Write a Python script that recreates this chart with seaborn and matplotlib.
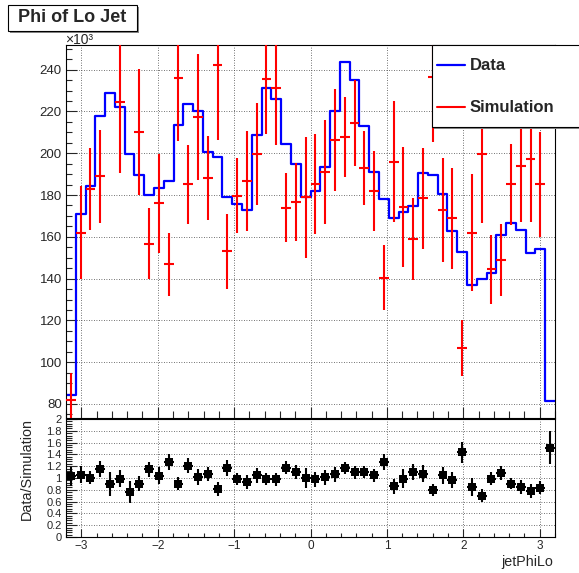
import numpy as np
import pandas as pd
import matplotlib
matplotlib.use("Agg")
import matplotlib.pyplot as plt
import seaborn as sns
from matplotlib.ticker import MultipleLocator, FixedLocator
from matplotlib.patches import Rectangle
from matplotlib.lines import Line2D

# ---------------- data (values in units of 10^3) ----------------
x_range = (-3.2, 3.2)
n_bins = 50

data_counts = [84.4, 170.7, 184.3, 218.0, 229.0, 222.0, 199.7, 189.8, 180.0, 183.3,
               186.8, 213.7, 223.6, 220.3, 200.7, 198.0, 178.9, 175.7, 172.8, 208.5,
               231.2, 225.8, 204.3, 194.8, 179.2, 181.9, 193.2, 220.1, 243.5, 235.0,
               212.9, 191.0, 178.1, 168.8, 171.8, 174.6, 190.6, 189.5, 180.3, 162.9,
               152.9, 137.0, 140.0, 142.5, 161.1, 166.7, 163.5, 152.4, 154.3, 81.6]

sim_counts = [82.0, 162.0, 182.8, 189.0, 254.4, 224.4, 262.8, 210.2, 156.7, 176.0,
              146.8, 235.9, 185.1, 217.4, 188.1, 242.1, 153.1, 179.6, 186.8, 199.7,
              235.4, 231.1, 173.9, 176.6, 179.0, 185.3, 191.1, 206.2, 207.8, 214.5,
              192.9, 182.0, 140.5, 196.0, 174.4, 159.0, 178.4, 236.5, 172.8, 168.8,
              106.7, 162.0, 199.7, 144.5, 148.9, 185.1, 193.8, 197.3, 185.1, 54.0]

sim_errors = [12.8, 22.3, 19.7, 22.3, 59.0, 34.0, 66.0, 30.0, 17.0, 23.5,
              15.0, 30.0, 19.0, 30.0, 20.0, 36.0, 18.0, 18.0, 24.0, 24.5,
              26.0, 27.0, 16.5, 18.6, 29.0, 24.0, 25.0, 24.5, 19.0, 20.7,
              17.7, 19.0, 15.4, 29.0, 28.6, 19.5, 24.0, 31.0, 25.0, 24.0,
              13.3, 28.0, 33.0, 16.5, 17.0, 19.5, 26.6, 30.0, 25.0, 10.0]

top_yticks = [80, 100, 120, 140, 160, 180, 200, 220, 240]
ratio_yticks = [0, 0.2, 0.4, 0.6, 0.8, 1.0, 1.2, 1.4, 1.6, 1.8, 2.0]
ratio_ylabels = ['0', '0.2', '0.4', '0.6', '0.8', '1', '1.2', '1.4', '1.6', '1.8', '2']
xticks = [-3, -2, -1, 0, 1, 2, 3]

title_text = "Phi of Lo Jet"
xlabel_text = "jetPhiLo"
ratio_label_text = "Data/Simulation"
legend_labels = ["Data", "Simulation"]

top_ylim = (73.3, 251.8)
ratio_ylim = (0.0, 2.0)

# ---------------- derived ----------------
edges = np.linspace(x_range[0], x_range[1], n_bins + 1)
centers = 0.5 * (edges[:-1] + edges[1:])
half_w = 0.5 * (edges[1] - edges[0])

df = pd.DataFrame({"x": centers,
                   "data": np.array(data_counts),
                   "sim": np.array(sim_counts),
                   "err": np.array(sim_errors)})
df["ratio"] = df["data"] / df["sim"]
df["ratio_err"] = df["ratio"] * df["err"] / df["sim"]

# ---------------- style ----------------
sns.set_style("white")
plt.rcParams['font.family'] = ['Liberation Sans', 'DejaVu Sans']
plt.rcParams['axes.edgecolor'] = 'black'
plt.rcParams['axes.linewidth'] = 0.8

W, H = 579, 573
fig = plt.figure(figsize=(W / 100, H / 100), dpi=100)
fig.patch.set_facecolor('white')


def fx(px):
    return px / W


def fy(py):
    return 1 - py / H


ax1 = fig.add_axes([fx(66), fy(418), fx(555) - fx(66), fy(45) - fy(418)])
ax2 = fig.add_axes([fx(66), fy(537), fx(555) - fx(66), fy(419) - fy(537)])

grid_kw = dict(color='#444444', linestyle=(0, (1, 2)), linewidth=0.6)

# ---- top panel ----
sns.histplot(data=df, x="x", weights="data", bins=[float(e) for e in edges],
             element="step", fill=False, color="blue", linewidth=1.6, ax=ax1,
             legend=False)
vis = df[(df["sim"] > top_ylim[0]) & (df["sim"] < top_ylim[1])]
ax1.errorbar(vis["x"], vis["sim"], yerr=vis["err"], xerr=half_w, fmt='none',
             ecolor='red', elinewidth=1.5, capsize=0, zorder=3)
ax1.set_xlim(*x_range)
ax1.set_ylim(*top_ylim)
ax1.set_xlabel("")
ax1.set_ylabel("")
ax1.xaxis.set_major_locator(FixedLocator(xticks))
ax1.xaxis.set_minor_locator(MultipleLocator(0.2))
ax1.yaxis.set_major_locator(FixedLocator(top_yticks))
ax1.yaxis.set_minor_locator(MultipleLocator(5))
ax1.set_yticklabels([str(v) for v in top_yticks])
ax1.tick_params(axis='x', which='major', direction='in', length=8, width=0.8,
                labelbottom=False, bottom=True, top=False)
ax1.tick_params(axis='x', which='minor', direction='in', length=5, width=0.8,
                bottom=True, top=False)
ax1.tick_params(axis='y', which='major', direction='in', length=8, width=0.8,
                labelsize=9.5, pad=3, left=True, right=False)
ax1.tick_params(axis='y', which='minor', direction='in', length=4, width=0.8,
                left=True, right=False)
ax1.grid(True, which='major', **grid_kw)
ax1.set_axisbelow(True)
for s in ax1.spines.values():
    s.set_visible(True)
    s.set_color('black')

# ---- ratio panel ----
ax2.errorbar(df["x"], df["ratio"], yerr=df["ratio_err"], xerr=half_w, fmt='none',
             ecolor='black', elinewidth=1.5, capsize=0, zorder=3)
sns.scatterplot(data=df, x="x", y="ratio", marker='s', s=30, color='black',
                edgecolor='black', linewidth=0, ax=ax2, zorder=4, legend=False)
ax2.set_xlim(*x_range)
ax2.set_ylim(*ratio_ylim)
ax2.set_xlabel("")
ax2.set_ylabel("")
ax2.xaxis.set_major_locator(FixedLocator(xticks))
ax2.xaxis.set_minor_locator(MultipleLocator(0.2))
ax2.set_xticklabels([str(v).replace('-', '\u2212') for v in xticks])
ax2.yaxis.set_major_locator(FixedLocator(ratio_yticks))
ax2.yaxis.set_minor_locator(MultipleLocator(0.04))
ax2.set_yticklabels(ratio_ylabels)
ax2.tick_params(axis='x', which='major', direction='in', length=6, width=0.8,
                labelsize=8.5, pad=2, bottom=True, top=False)
ax2.tick_params(axis='x', which='minor', direction='in', length=3, width=0.8,
                bottom=True, top=False)
ax2.tick_params(axis='y', which='major', direction='in', length=8, width=0.8,
                labelsize=8.0, pad=3, left=True, right=False)
ax2.tick_params(axis='y', which='minor', direction='in', length=4, width=0.8,
                left=True, right=False)
ax2.grid(True, which='major', **grid_kw)
ax2.set_axisbelow(True)
for s in ax2.spines.values():
    s.set_visible(True)
    s.set_color('black')

# ---- texts ----
fig.text(fx(65), fy(44), "\u00d710\u00b3", fontsize=10, ha='left', va='baseline')
fig.text(fx(27), fy(469), ratio_label_text, rotation=90, fontsize=10.4,
         ha='center', va='center')
fig.text(fx(553), fy(562), xlabel_text, fontsize=10.3, ha='right', va='center')

# title box with shadow
fig.patches.append(Rectangle((fx(10), fy(33)), fx(137) - fx(8), fy(5) - fy(31),
                             transform=fig.transFigure, facecolor='#888888',
                             edgecolor='none', zorder=1))
fig.patches.append(Rectangle((fx(8), fy(31)), fx(137) - fx(8), fy(5) - fy(31),
                             transform=fig.transFigure, facecolor='white',
                             edgecolor='black', linewidth=0.8, zorder=2))
fig.text(fx(72.5), fy(18), title_text, fontsize=13, fontweight='bold',
         ha='center', va='center', zorder=3)

# legend box
fig.patches.append(Rectangle((fx(434), fy(129)), fx(600) - fx(434), fy(47) - fy(129),
                             transform=fig.transFigure, facecolor='#888888',
                             edgecolor='none', zorder=5))
fig.patches.append(Rectangle((fx(432), fy(127)), fx(600) - fx(432), fy(45) - fy(127),
                             transform=fig.transFigure, facecolor='white',
                             edgecolor='black', linewidth=0.8, zorder=6))
fig.lines.append(Line2D([fx(437), fx(465)], [fy(65), fy(65)], transform=fig.transFigure,
                        color='blue', linewidth=1.6, zorder=7))
fig.lines.append(Line2D([fx(437), fx(465)], [fy(107), fy(107)], transform=fig.transFigure,
                        color='red', linewidth=1.5, zorder=7))
fig.text(fx(470), fy(66), legend_labels[0], fontsize=12, fontweight='bold',
         ha='left', va='center', zorder=8)
fig.text(fx(470), fy(107), legend_labels[1], fontsize=12, fontweight='bold',
         ha='left', va='center', zorder=8)

fig.savefig("out.png", dpi=100, facecolor='white')
